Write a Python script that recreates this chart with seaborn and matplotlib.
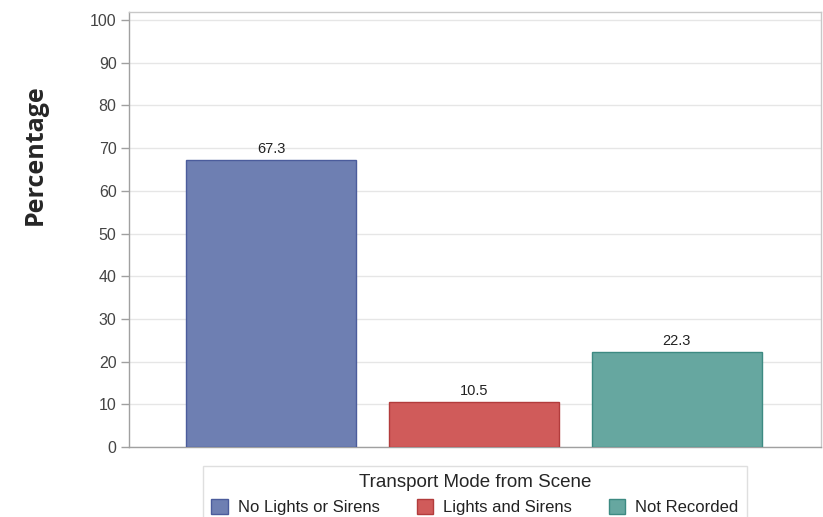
import matplotlib
matplotlib.use("Agg")
import matplotlib.pyplot as plt
from matplotlib.patches import Patch
import seaborn as sns

modes = ["No Lights or Sirens", "Lights and Sirens", "Not Recorded"]
percent = [67.3, 10.5, 22.3]
fills = ["#6e7fb2", "#d05b5a", "#66a7a0"]
edges = ["#4b5c9c", "#b23c3c", "#3d8a82"]
yticks = list(range(0, 101, 10))

sns.set_style("white")
plt.rcParams["font.family"] = ["Liberation Sans", "DejaVu Sans"]

fig = plt.figure(figsize=(8.23, 5.17), dpi=100)
ax = fig.add_axes([129 / 823, 1 - 447 / 517, 692 / 823, 435 / 517])

sns.barplot(x=modes, y=percent, hue=modes, palette=fills, dodge=False,
            saturation=1, width=0.84, legend=False, ax=ax, zorder=3)
for bar, ec in zip(ax.patches, edges):
    bar.set_edgecolor(ec)
    bar.set_linewidth(1.0)

for c in ax.containers:
    ax.bar_label(c, fmt="%.1f", padding=3, fontsize=10.5, color="#222222")

ax.set_xlim(-0.70, 2.71)
ax.set_ylim(0, 101.9)
ax.set_yticks(yticks)
ax.set_xticks([])
ax.set_xlabel("")
ax.yaxis.grid(True, color="#e6e6e6", linewidth=1, zorder=0)
ax.set_axisbelow(True)

for s in ax.spines.values():
    s.set_color("#c8c8c8")
    s.set_linewidth(1)
ax.spines["left"].set_color("#a0a0a0")
ax.spines["bottom"].set_color("#a0a0a0")
ax.tick_params(axis="y", left=True, length=6, width=1, color="#a0a0a0",
               labelsize=11.5, labelcolor="#444444", pad=3)

ax.set_ylabel("Percentage", fontsize=18, fontweight="bold",
              family=["Open Sans", "DejaVu Sans"])
ax.yaxis.set_label_coords(-0.118, 0.673)

handles = [Patch(facecolor=f, edgecolor=e, label=m) for m, f, e in zip(modes, fills, edges)]
leg = fig.legend(handles=handles, title="Transport Mode from Scene", ncol=3,
                 loc="upper left", bbox_to_anchor=(203 / 823, 1 - 466 / 517),
                 frameon=True, fancybox=False, fontsize=12, title_fontsize=13.5,
                 handlelength=1.0, handleheight=1.0, handletextpad=0.6,
                 columnspacing=2.2, borderpad=0.5, borderaxespad=0.0,
                 labelspacing=0.45)
leg.get_frame().set_edgecolor("#d8d8d8")
leg.get_frame().set_linewidth(1)
for t in leg.get_texts():
    t.set_color("#222222")

fig.savefig("out.png", dpi=100)
